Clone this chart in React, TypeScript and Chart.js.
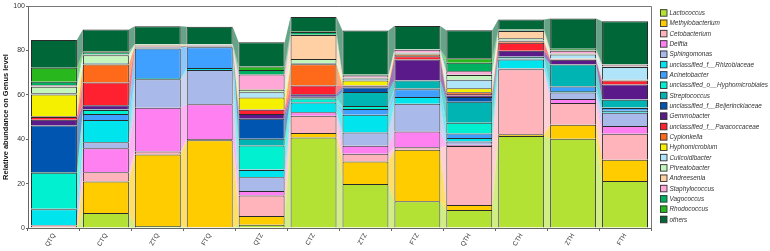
import { useEffect, useRef } from 'react';
import { Chart, registerables } from 'chart.js';

Chart.register(...registerables);

const categories = ['QTQ', 'CTQ', 'ZTQ', 'FTQ', 'QTZ', 'CTZ', 'ZTZ', 'FTZ', 'QTH', 'CTH', 'ZTH', 'FTH'];

const taxa = [
  'Lactococcus', 'Methylobacterium', 'Cetobacterium', 'Delftia', 'Sphingomonas',
  'unclassified_f__Rhizobiaceae', 'Acinetobacter', 'unclassified_o__Hyphomicrobiales',
  'Streptococcus', 'unclassified_f__Beijerinckiaceae', 'Gemmobacter',
  'unclassified_f__Paracoccaceae', 'Cypionkella', 'Hyphomicrobium', 'Culicoidibacter',
  'Phreatobacter', 'Andreesenia', 'Staphylococcus', 'Vagococcus', 'Rhodococcus', 'others',
];

const colors = [
  '#b3e234', '#ffcc00', '#ffb3ba', '#ff80f0', '#a9b9ea', '#00e4ee', '#40a0ff', '#00f0d0',
  '#00b4b4', '#0055b0', '#5a1a8a', '#ff2030', '#ff6a1a', '#f5f000', '#b0e4f8', '#c4f5bc',
  '#ffd0a4', '#ffa8d8', '#00b060', '#28b81e', '#006838',
];

const lactococcus = [0.3, 6.8, 0.9, 0.3, 1.5, 40.8, 19.8, 12.0, 8.1, 41.4, 40.2, 21.2];
const methylobacterium = [0.2, 14.1, 32.2, 39.2, 3.9, 2.0, 10.2, 23.2, 2.3, 0.8, 6.3, 9.5];
const cetobacterium = [0.6, 4.2, 1.4, 0.6, 9.2, 7.8, 3.5, 1.2, 26.5, 29.3, 9.8, 11.7];
const delftia = [0.1, 10.8, 19.7, 15.6, 2.1, 1.5, 3.5, 7.1, 0.6, 0.2, 1.8, 3.5];
const sphingomonas = [0.1, 2.7, 12.8, 15.5, 6.2, 0.2, 6.0, 12.5, 1.5, 0.3, 2.9, 6.0];
const rhizobiaceae = [7.1, 10.1, 0.6, 0.9, 3.2, 4.2, 8.0, 3.0, 1.5, 3.9, 0.7, 0.9];
const acinetobacter = [0.3, 2.7, 13.2, 9.3, 0.3, 0.3, 2.6, 3.5, 2.1, 0.3, 2.0, 1.2];
const hyphomicrobiales = [16.2, 1.7, 0.2, 0.2, 10.8, 1.5, 1.4, 0.3, 4.8, 0.2, 0.3, 0.3];
const streptococcus = [0.3, 0.3, 0.2, 0.1, 3.0, 0.6, 6.3, 3.6, 9.5, 0.6, 9.6, 3.5];
const beijerinckiaceae = [21.0, 0.2, 0.2, 0.1, 9.0, 0.2, 2.0, 0.2, 2.1, 0.2, 0.2, 0.2];
const gemmobacter = [2.6, 1.7, 0.3, 0.2, 2.1, 1.2, 0.5, 9.3, 0.7, 2.6, 2.0, 6.6];
const paracoccaceae = [1.2, 10.2, 0.2, 0.1, 2.0, 3.9, 0.3, 1.5, 0.7, 3.6, 0.2, 1.8];
const cypionkella = [0.3, 8.1, 0.2, 0.1, 0.2, 9.6, 0.2, 0.7, 0.7, 0.7, 0.2, 0.2];
const hyphomicrobium = [9.8, 0.3, 0.2, 0.1, 5.3, 0.2, 2.1, 0.3, 1.8, 0.2, 0.2, 0.2];
const culicoidibacter = [0.6, 0.4, 0.1, 0.1, 2.3, 0.3, 0.9, 0.2, 3.9, 0.3, 1.8, 5.7];
const phreatobacter = [2.9, 3.5, 0.1, 0.1, 1.2, 1.8, 0.3, 0.2, 2.1, 0.9, 0.3, 0.2];
const andreesenia = [0.3, 0.2, 0.1, 0.1, 0.3, 10.8, 0.2, 0.2, 0.3, 3.2, 0.2, 0.2];
const staphylococcus = [0.4, 0.2, 0.1, 0.1, 6.5, 0.2, 0.8, 1.3, 1.4, 0.2, 1.1, 0.6];
const vagococcus = [1.6, 1.0, 0.1, 0.1, 2.1, 1.2, 0.3, 0.1, 3.8, 0.3, 0.3, 0.2];
const rhodococcus = [6.3, 0.4, 0.1, 0.1, 1.5, 0.3, 0.3, 0.1, 2.1, 0.2, 0.6, 0.2];
const others = [12.5, 9.8, 8.0, 7.7, 11.0, 6.5, 19.8, 10.5, 12.6, 4.5, 13.7, 19.2];

const seriesValues = [
  lactococcus, methylobacterium, cetobacterium, delftia, sphingomonas, rhizobiaceae,
  acinetobacter, hyphomicrobiales, streptococcus, beijerinckiaceae, gemmobacter,
  paracoccaceae, cypionkella, hyphomicrobium, culicoidibacter, phreatobacter,
  andreesenia, staphylococcus, vagococcus, rhodococcus, others,
];

const yTicks = [0, 20, 40, 60, 80, 100];
const yTitle = 'Relative abundance on Genus level';

function hexA(hex: string, a: number) {
  const r = parseInt(hex.slice(1, 3), 16);
  const g = parseInt(hex.slice(3, 5), 16);
  const b = parseInt(hex.slice(5, 7), 16);
  return `rgba(${r},${g},${b},${a})`;
}

const flowPlugin = {
  id: 'flows',
  beforeDatasetsDraw(chart: any) {
    const ctx = chart.ctx;
    ctx.save();
    chart.data.datasets.forEach((ds: any, i: number) => {
      const meta = chart.getDatasetMeta(i);
      for (let j = 0; j < meta.data.length - 1; j++) {
        const a = meta.data[j];
        const b = meta.data[j + 1];
        const ax = a.x + a.width / 2;
        const bx = b.x - b.width / 2;
        ctx.beginPath();
        ctx.moveTo(ax, a.y);
        ctx.lineTo(bx, b.y);
        ctx.lineTo(bx, b.base);
        ctx.lineTo(ax, a.base);
        ctx.closePath();
        ctx.fillStyle = hexA(colors[i], 0.6);
        ctx.fill();
      }
    });
    ctx.restore();
  },
};

const framePlugin = {
  id: 'frame',
  afterDraw(chart: any) {
    const { ctx, chartArea } = chart;
    ctx.save();
    ctx.strokeStyle = '#777';
    ctx.lineWidth = 1;
    ctx.beginPath();
    ctx.moveTo(chartArea.left, chartArea.top + 0.5);
    ctx.lineTo(chartArea.right + 0.5, chartArea.top + 0.5);
    ctx.lineTo(chartArea.right + 0.5, chartArea.bottom);
    ctx.stroke();
    ctx.restore();
  },
};

const legendPlugin = {
  id: 'customLegend',
  afterDraw(chart: any) {
    const ctx = chart.ctx;
    const x0 = chart.chartArea.right + 9;
    const y0 = 12.7;
    const step = 10.33;
    ctx.save();
    ctx.font = 'italic 6.4px Arial, "Liberation Sans", sans-serif';
    ctx.textBaseline = 'middle';
    ctx.textAlign = 'left';
    chart.data.datasets.forEach((ds: any, i: number) => {
      const cy = y0 + i * step;
      ctx.fillStyle = colors[i];
      ctx.fillRect(x0, cy - 3.5, 7, 7);
      ctx.strokeStyle = '#333';
      ctx.lineWidth = 0.9;
      ctx.strokeRect(x0 + 0.5, cy - 3, 6.5, 6.5);
      ctx.fillStyle = '#333';
      ctx.fillText(ds.label, x0 + 9.5, cy + 0.5);
    });
    ctx.restore();
  },
};

export default function App() {
  const ref = useRef<HTMLCanvasElement>(null);

  useEffect(() => {
    if (!ref.current) return;
    Chart.defaults.font.family = 'Arial, "Liberation Sans", sans-serif';
    const chart = new Chart(ref.current, {
      type: 'bar',
      data: {
        labels: categories,
        datasets: taxa.map((name, i) => ({
          label: name,
          data: seriesValues[i],
          backgroundColor: colors[i],
          borderColor: '#2a2a2a',
          borderWidth: 1,
          barPercentage: 0.885,
          categoryPercentage: 1,
        })),
      },
      options: {
        animation: false,
        responsive: true,
        maintainAspectRatio: false,
        layout: { padding: { top: 6, right: 119, left: 0, bottom: 0 } },
        plugins: {
          legend: { display: false },
          tooltip: { enabled: false },
        },
        scales: {
          x: {
            stacked: true,
            grid: { display: true, drawOnChartArea: false, drawTicks: true, tickLength: 3, color: '#666' },
            border: { color: '#666' },
            ticks: {
              minRotation: 60,
              maxRotation: 60,
              font: { size: 6.5 },
              color: '#333',
              padding: 1,
            },
            afterFit: (scale: any) => {
              scale.height = 23;
            },
          },
          y: {
            stacked: true,
            min: 0,
            max: 100,
            afterBuildTicks: (scale: any) => {
              scale.ticks = yTicks.map((v) => ({ value: v }));
            },
            grid: { display: true, drawOnChartArea: false, drawTicks: true, tickLength: 2, color: '#666' },
            border: { color: '#666' },
            ticks: { font: { size: 7 }, color: '#333', padding: 1 },
            title: {
              display: true,
              text: yTitle,
              font: { size: 7.5, weight: 'bold' },
              color: '#111',
              padding: { top: 1, bottom: 0 },
            },
            afterFit: (scale: any) => {
              scale.width = 28;
            },
          },
        },
      },
      plugins: [flowPlugin, framePlugin, legendPlugin],
    });
    return () => chart.destroy();
  }, []);

  return (
    <div style={{ position: 'absolute', left: 0, top: 0, width: 770, height: 251 }}>
      <canvas ref={ref} />
    </div>
  );
}
